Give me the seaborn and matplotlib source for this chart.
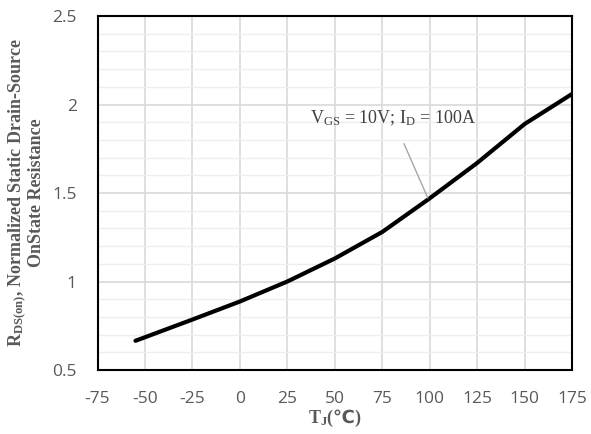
import matplotlib
matplotlib.use("Agg")
import matplotlib.pyplot as plt
import seaborn as sns
import pandas as pd
from matplotlib.ticker import MultipleLocator

temps = [-55, -25, 0, 25, 50, 75, 100, 125, 150, 175]
rds_norm = [0.665, 0.785, 0.887, 1.0, 1.13, 1.28, 1.47, 1.67, 1.89, 2.06]
x_ticks = [-75, -50, -25, 0, 25, 50, 75, 100, 125, 150, 175]
y_ticks = [0.5, 1.0, 1.5, 2.0, 2.5]
y_tick_labels = ["0.5", "1", "1.5", "2", "2.5"]

sns.set_style("white")
plt.rcParams["mathtext.fontset"] = "custom"
plt.rcParams["mathtext.rm"] = "Liberation Serif"
plt.rcParams["mathtext.it"] = "Liberation Serif"
plt.rcParams["mathtext.bf"] = "Liberation Serif:bold"
plt.rcParams["mathtext.sf"] = "DejaVu Sans:bold"

df = pd.DataFrame({"T": temps, "R": rds_norm})

fig = plt.figure(figsize=(5.91, 4.34), dpi=100)
ax = fig.add_axes([0.165, 0.1475, 0.803, 0.8155])

sns.lineplot(data=df, x="T", y="R", ax=ax, color="black", linewidth=3.0, zorder=5)

ax.set_xlim(-75, 175)
ax.set_ylim(0.5, 2.5)
ax.set_xticks(x_ticks)
ax.set_xticklabels([str(t) for t in x_ticks])
ax.set_yticks(y_ticks)
ax.set_yticklabels(y_tick_labels)
ax.yaxis.set_minor_locator(MultipleLocator(0.1))

ax.grid(which="major", axis="both", color="#d9d9d9", linewidth=1.2, zorder=0)
ax.grid(which="minor", axis="y", color="#eeeeee", linewidth=1.0, zorder=0)
ax.set_axisbelow(True)

for s in ax.spines.values():
    s.set_color("black")
    s.set_linewidth(1.5)

ax.tick_params(axis="both", which="both", length=0, labelsize=12.5,
               labelcolor="#595959")
ax.tick_params(axis="y", pad=15)
ax.tick_params(axis="x", pad=15)
for lbl in ax.get_xticklabels() + ax.get_yticklabels():
    lbl.set_family(["Open Sans", "DejaVu Sans"])

ax.set_xlabel(r"T$_\mathbf{J}$($\mathsf{℃}$)", fontsize=13, fontweight="bold",
              color="#595959", family=["Liberation Serif", "DejaVu Serif"], labelpad=1)
ax.set_ylabel("R$_\\mathbf{DS(on)}$, Normalized Static Drain-Source\nOnState Resistance",
              fontsize=13, fontweight="bold", color="#595959",
              family=["Liberation Serif", "DejaVu Serif"], labelpad=5, linespacing=1.05)

ax.annotate("V$_{\\mathrm{GS}}$ = 10V; I$_{\\mathrm{D}}$ = 100A",
            xy=(99, 1.472), xytext=(80.5, 1.924),
            ha="center", va="center", fontsize=13, color="#404040",
            family="Liberation Serif",
            arrowprops=dict(arrowstyle="-", color="#a6a6a6", lw=1.0,
                            shrinkA=10, shrinkB=0), zorder=6)

fig.savefig("out.png", dpi=100)
